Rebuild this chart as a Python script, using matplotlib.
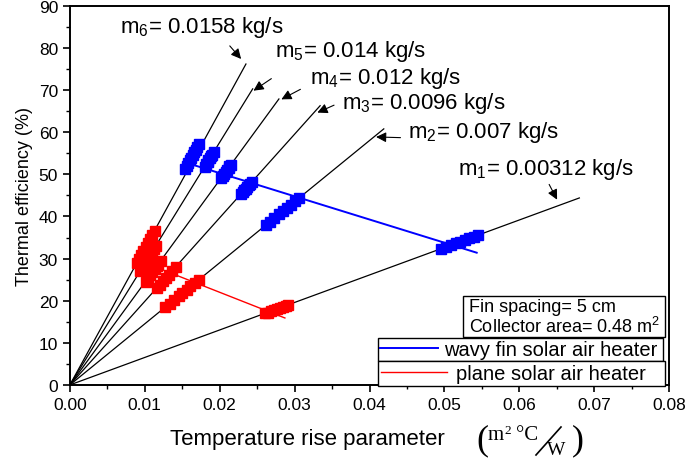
import numpy as np
import matplotlib.pyplot as plt
from matplotlib.patches import Rectangle
from matplotlib.lines import Line2D

plt.rcParams['font.family'] = ['Liberation Sans', 'DejaVu Sans']
plt.rcParams['mathtext.fontset'] = 'custom'
plt.rcParams['mathtext.rm'] = 'Liberation Sans'

# mass flow lines (end points, lines start at origin)
flow_labels = ['m$_1$= 0.00312 kg/s', 'm$_2$= 0.007 kg/s', 'm$_3$= 0.0096 kg/s',
               'm$_4$= 0.012 kg/s', 'm$_5$= 0.014 kg/s', 'm$_6$= 0.0158 kg/s']
line_x_end = [0.0680, 0.0419, 0.0334, 0.0279, 0.0244, 0.0235]
line_y_end = [44.4, 60.8, 66.3, 67.9, 70.3, 76.2]

# label positions and arrows (tail -> head)
label_x = [0.0518, 0.0451, 0.0363, 0.0320, 0.0274, 0.0067]
label_y = [51.3, 60.1, 67.0, 73.1, 79.3, 85.0]
arrow_tail = [(0.0638, 48.2), (0.0445, 58.7), (0.0356, 66.7),
              (0.0311, 70.5), (0.0272, 73.1), (0.0211, 81.0)]
arrow_head = [(0.0652, 43.4), (0.0405, 58.9), (0.0327, 64.4),
              (0.0279, 67.5), (0.0242, 69.5), (0.0231, 76.9)]

# wavy fin solar air heater (blue), per mass flow rate
wavy_x = [
    [0.0495, 0.0502, 0.0509, 0.0515, 0.0521, 0.0527, 0.0533, 0.0539, 0.0545],
    [0.0262, 0.0267, 0.0273, 0.0279, 0.0284, 0.0290, 0.0295, 0.0301, 0.0306],
    [0.0229, 0.0231, 0.0233, 0.0235, 0.0237, 0.0239, 0.0241, 0.0243],
    [0.0202, 0.0204, 0.0206, 0.0208, 0.0210, 0.0212, 0.0213, 0.0215],
    [0.0180, 0.0182, 0.0184, 0.0185, 0.0187, 0.0189, 0.0190, 0.0192],
    [0.0154, 0.0156, 0.0158, 0.0160, 0.0162, 0.0164, 0.0166, 0.0168, 0.0170, 0.0172],
]
wavy_y = [
    [32.3, 32.8, 33.2, 33.6, 34.0, 34.4, 34.8, 35.2, 35.6],
    [38.0, 38.7, 39.6, 40.5, 41.2, 42.1, 42.8, 43.7, 44.4],
    [45.4, 45.8, 46.2, 46.6, 47.0, 47.4, 47.8, 48.2],
    [49.2, 49.7, 50.1, 50.6, 51.1, 51.6, 51.9, 52.3],
    [51.8, 52.4, 53.0, 53.3, 53.8, 54.4, 54.7, 55.3],
    [51.2, 51.9, 52.6, 53.3, 53.9, 54.6, 55.2, 55.9, 56.6, 57.3],
]
wavy_fit_x = [0.0160, 0.0543]
wavy_fit_y = [52.5, 31.4]

# plane solar air heater (red)
plane_x = [
    [0.0260, 0.0264, 0.0268, 0.0272, 0.0276, 0.0280, 0.0284, 0.0288, 0.0291],
    [0.0127, 0.0133, 0.0139, 0.0145, 0.0150, 0.0156, 0.0161, 0.0167, 0.0172],
    [0.0116, 0.0120, 0.0124, 0.0128, 0.0132, 0.0136, 0.0141],
    [0.0101, 0.0104, 0.0107, 0.0110, 0.0113, 0.0116, 0.0118, 0.0121],
    [0.0094, 0.0097, 0.0100, 0.0103, 0.0106, 0.0109, 0.0112, 0.0115],
    [0.0089, 0.0092, 0.0095, 0.0098, 0.0101, 0.0104, 0.0107, 0.0110, 0.0113],
]
plane_y = [
    [17.0, 17.2, 17.5, 17.8, 18.0, 18.3, 18.5, 18.8, 19.0],
    [18.5, 19.3, 20.2, 21.0, 21.8, 22.6, 23.4, 24.2, 25.0],
    [23.0, 23.8, 24.6, 25.4, 26.2, 27.0, 28.0],
    [24.5, 25.3, 26.0, 26.8, 27.5, 28.2, 28.7, 29.5],
    [27.0, 27.9, 28.8, 29.6, 30.5, 31.4, 32.2, 33.0],
    [29.0, 29.8, 30.8, 31.8, 32.8, 33.8, 34.7, 35.7, 36.5],
]
plane_fit_x = [0.0120, 0.0287]
plane_fit_y = [27.6, 15.9]

W, H = 685, 460
fig = plt.figure(figsize=(6.85, 4.6), dpi=100)
ax = fig.add_axes([0.102, 0.161, 0.875, 0.824])

for xe, ye in zip(line_x_end, line_y_end):
    ax.plot([0, xe], [0, ye], color='black', lw=0.9, zorder=2)

for xs, ys in zip(wavy_x, wavy_y):
    ax.plot(xs, ys, 's', color='#0000ff', ms=7, mec='#0000ff', zorder=3)
for xs, ys in zip(plane_x, plane_y):
    ax.plot(xs, ys, 's', color='#ff0000', ms=7, mec='#ff0000', zorder=3)

h_wavy, = ax.plot(wavy_fit_x, wavy_fit_y, color='#0000ff', lw=1.4, zorder=3,
                  label='wavy fin solar air heater')
h_plane, = ax.plot(plane_fit_x, plane_fit_y, color='#ff0000', lw=1.0, zorder=3,
                   label='plane solar air heater')

for i in range(6):
    ax.text(label_x[i], label_y[i], flow_labels[i], fontsize=16, va='center', ha='left')
    ax.annotate('', xy=arrow_head[i], xytext=arrow_tail[i],
                arrowprops=dict(arrowstyle='-|>', color='black', lw=0.8,
                                mutation_scale=15))

ax.set_xlim(0, 0.08)
ax.set_ylim(0, 90)
ax.set_xticks(np.arange(0, 0.081, 0.01))
ax.set_xticklabels([f'{v:.2f}' for v in np.arange(0, 0.081, 0.01)])
ax.set_yticks(np.arange(0, 91, 10))
ax.set_xticks(np.arange(0.005, 0.08, 0.01), minor=True)
ax.set_yticks(np.arange(5, 90, 10), minor=True)
ax.tick_params(which='major', direction='out', length=5, width=1.2, labelsize=12.5)
ax.tick_params(which='minor', direction='out', length=3, width=1.0)
for s in ax.spines.values():
    s.set_linewidth(1.4)

ax.set_ylabel('Thermal efficiency (%)', fontsize=13, labelpad=4)
fig.text(307 / W, 1 - 440 / H, 'Temperature rise parameter', fontsize=16,
         ha='center', va='center')

# unit (m^2 °C / W) in a serif face
serif = 'Liberation Serif'
fig.text(482 / W, 1 - 441 / H, '(', fontsize=26, family=serif, ha='center', va='center')
fig.text(578 / W, 1 - 441 / H, ')', fontsize=26, family=serif, ha='center', va='center')
fig.text(488 / W, 1 - 436 / H, 'm', fontsize=15, family=serif, ha='left', va='center')
fig.text(504 / W, 1 - 431 / H, '2', fontsize=9.5, family=serif, ha='left', va='center')
fig.text(516 / W, 1 - 436 / H, '\u00b0C', fontsize=15, family=serif, ha='left', va='center')
fig.add_artist(Line2D([536 / W, 561 / W], [1 - 456 / H, 1 - 428 / H],
                      transform=fig.transFigure, color='black', lw=1.2))
fig.text(547 / W, 1 - 451 / H, 'W', fontsize=14, family=serif, ha='left', va='center')

# info box
ax.add_patch(Rectangle((0.656, 0.126), 0.337, 0.108, transform=ax.transAxes,
                       fill=True, facecolor='white', edgecolor='black', lw=1.0, zorder=5))
ax.text(0.666, 0.208, 'Fin spacing= 5 cm', transform=ax.transAxes, fontsize=13,
        va='center', zorder=6)
ax.text(0.666, 0.155, 'Collector area= 0.48 m$^2$', transform=ax.transAxes, fontsize=13,
        va='center', zorder=6)

leg1 = ax.legend(handles=[h_wavy], loc='lower left', bbox_to_anchor=(0.514, 0.063, 0.476, 0.058),
                 mode='expand', fancybox=False, edgecolor='black', framealpha=1,
                 fontsize=14.5, handlelength=2.9, borderpad=0.1, borderaxespad=0,
                 handletextpad=0.3)
leg1.get_frame().set_linewidth(1.0)
ax.add_artist(leg1)
leg2 = ax.legend(handles=[h_plane], loc='lower left', bbox_to_anchor=(0.514, -0.004, 0.479, 0.063),
                 mode='expand', fancybox=False, edgecolor='black', framealpha=1,
                 fontsize=14.5, handlelength=3.3, borderpad=0.15, borderaxespad=0,
                 handletextpad=0.45)
leg2.get_frame().set_linewidth(1.0)

fig.savefig('out.png', dpi=100)
